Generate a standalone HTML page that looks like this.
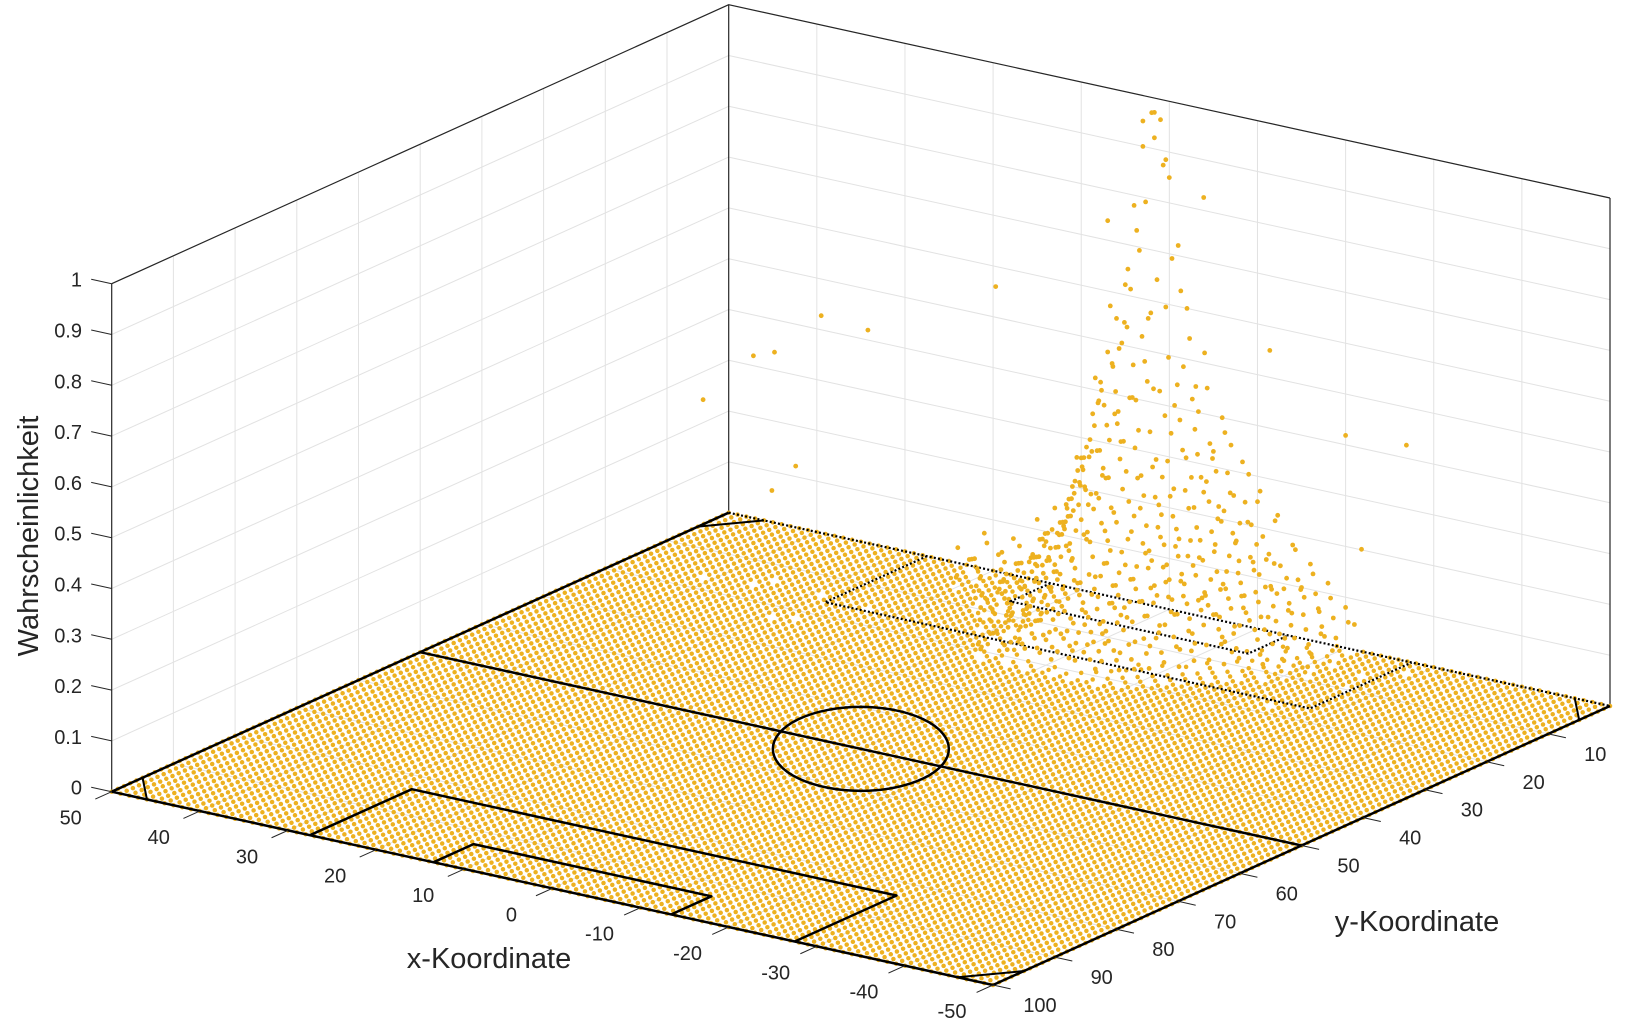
<!DOCTYPE html>
<html>
<head>
<meta charset="utf-8">
<style>
  html,body{margin:0;padding:0;background:#fff;}
  svg{display:block;}
  text{font-family:"Liberation Sans",Arial,sans-serif;fill:#262626;}
</style>
</head>
<body>
<svg id="chart" width="1630" height="1027" viewBox="0 0 1630 1027" xmlns="http://www.w3.org/2000/svg">
  <g id="walls"></g>
  <g id="floorGrid"></g>
  <g id="floorDots"></g>
  <g id="fieldLines"></g>
  <g id="liftDots"></g>
  <g id="axes"></g>
  <text x="0" y="0" font-size="29" text-anchor="middle" transform="translate(38,536) rotate(-90)">Wahrscheinlichkeit</text>
  <text x="489" y="968" font-size="29" text-anchor="middle">x-Koordinate</text>
  <text x="1417" y="931" font-size="29" text-anchor="middle">y-Koordinate</text>
</svg>
<script>
// ---- data ----
const xTicks = [50, 40, 30, 20, 10, 0, -10, -20, -30, -40, -50];
const yTicks = [10, 20, 30, 40, 50, 60, 70, 80, 90, 100];
const zTicks = [0, 0.1, 0.2, 0.3, 0.4, 0.5, 0.6, 0.7, 0.8, 0.9, 1];
const zTickLabels = ["0", "0.1", "0.2", "0.3", "0.4", "0.5", "0.6", "0.7", "0.8", "0.9", "1"];
const floorXs = Array.from({length: 101}, (_, i) => i - 50);
const floorYs = Array.from({length: 101}, (_, i) => i);
// lifted probabilities (percent), rows y = 0..22, columns x = -22..24
const liftX0 = -22;
const liftYs = [0,1,2,3,4,5,6,7,8,9,10,11,12,13,14,15,16,17,18,19,20,21,22];
const liftZ = [
 [0,5,8,0,12,6,15,10, 18,9,22,14,25,30,20,35, 40,33,52,45,60,72,85,96, 97,90,78,62,55,48,38,30, 26,20,0,15,8,12,0,6, 0,4,0,7,0,0,3],
 [0,6,0,10,4,14,9,18, 12,24,16,28,21,33,26,38, 30,46,41,55,64,70,88,93, 80,74,66,50,58,41,36,27, 22,17,11,0,9,5,0,8, 3,0,6,0,2,0,0],
 [0,0,7,3,11,0,13,8, 15,10,20,13,26,18,31,24, 36,29,44,50,42,61,66,58, 71,63,52,47,39,44,30,25, 19,14,0,10,6,0,4,0, 5,0,0,3,0,0,0],
 [0,4,0,9,0,12,7,0, 16,11,19,23,15,28,22,34, 27,39,33,47,52,45,60,55, 49,57,43,36,40,29,23,20, 15,0,12,7,0,5,0,3, 0,0,4,0,0,0,0],
 [0,0,5,0,8,3,0,11, 6,14,17,9,21,25,18,30, 35,24,41,38,29,46,51,43, 57,40,34,45,31,27,22,16, 0,13,8,0,6,0,2,0, 0,3,0,0,0,0,0],
 [3,0,0,6,0,9,4,13, 0,17,10,20,14,24,27,19, 31,36,28,42,33,48,38,44, 35,50,29,37,24,30,18,14, 11,0,9,5,0,4,0,0, 2,0,0,0,0,0,0],
 [0,0,4,0,7,0,10,5, 12,0,15,18,11,22,16,26, 29,21,34,25,39,30,45,36, 41,28,33,22,26,19,15,0, 12,8,0,6,0,3,0,0, 0,0,2,0,0,0,0],
 [0,3,0,0,5,8,0,11, 7,14,0,13,19,10,23,17, 20,28,24,33,27,36,31,40, 29,34,25,30,21,17,13,10, 0,9,5,0,4,0,0,2, 0,0,0,0,0,0,0],
 [0,0,0,4,0,6,9,0, 10,6,13,16,9,18,21,14, 25,19,28,22,31,26,34,24, 30,23,27,18,22,14,11,0, 8,0,6,3,0,0,2,0, 0,0,0,0,0,0,0],
 [2,0,0,0,5,0,7,10, 0,12,8,15,11,17,13,20, 16,23,18,26,21,29,24,20, 27,19,24,16,13,18,9,7, 0,6,0,4,0,2,0,0, 0,0,0,0,0,0,0],
 [0,0,3,0,0,6,0,8, 11,5,9,13,16,10,19,14, 22,17,20,25,15,23,19,27, 18,22,14,20,12,9,11,0, 6,0,4,0,0,2,0,0, 0,0,0,0,0,0,0],
 [0,0,0,0,4,0,0,7, 5,10,0,12,8,15,11,17, 13,19,16,21,14,18,23,16, 20,13,17,10,14,7,0,5, 0,4,0,3,0,0,0,0, 0,0,0,0,0,0,0],
 [0,0,0,3,0,0,5,0, 8,0,11,6,13,9,15,12, 17,10,14,19,12,16,13,20, 11,17,12,9,13,6,8,0, 4,0,0,2,0,0,0,0, 0,0,0,0,0,0,0],
 [0,0,0,0,0,4,0,6, 0,9,5,0,10,13,7,14, 11,15,9,13,17,10,14,12, 16,10,13,8,11,5,0,4, 0,3,0,0,0,0,0,0, 0,0,0,0,0,0,0],
 [0,0,0,0,0,0,3,0, 6,0,8,4,11,0,12,9, 14,8,12,10,15,11,9,13, 10,14,7,11,6,9,4,0, 3,0,0,0,0,0,0,0, 0,0,0,0,0,0,0],
 [0,0,0,0,0,0,0,4, 0,5,0,7,9,6,10,0, 12,9,11,7,13,8,12,10, 9,11,6,8,5,0,4,0, 0,2,0,0,0,0,0,0, 0,0,0,0,0,0,0],
 [0,0,0,0,0,0,0,0, 4,0,6,0,8,5,0,9, 7,11,6,10,8,12,7,9, 6,10,5,7,0,4,0,3, 0,0,0,0,0,0,0,0, 0,0,0,0,0,0,0],
 [0,0,0,0,0,0,0,0, 0,3,0,5,0,7,6,0, 9,5,8,6,10,7,9,5, 8,6,7,4,6,0,3,0, 0,0,0,0,0,0,0,0, 0,0,0,0,0,0,0],
 [0,0,0,0,0,0,0,0, 0,0,4,0,5,0,6,4, 0,7,5,8,4,6,9,5, 7,4,6,0,5,3,0,0, 0,0,0,0,0,0,0,0, 0,0,0,0,0,0,0],
 [0,0,0,0,0,0,0,0, 0,0,0,3,0,4,0,5, 6,0,5,7,4,6,3,5, 4,6,0,5,0,3,0,0, 0,0,0,0,0,0,0,0, 0,0,0,0,0,0,0],
 [0,0,0,0,0,0,0,0, 0,0,0,0,3,0,4,0, 5,3,0,4,6,0,5,3, 0,4,3,0,4,0,0,0, 0,0,0,0,0,0,0,0, 0,0,0,0,0,0,0],
 [0,0,0,0,0,0,0,0, 0,0,0,0,0,3,0,4, 0,5,3,0,4,0,3,0, 4,0,3,0,0,2,0,0, 0,0,0,0,0,0,0,0, 0,0,0,0,0,0,0],
 [0,0,0,0,0,0,0,0, 0,0,0,0,0,0,0,3, 0,0,4,0,3,0,0,4, 0,3,0,0,2,0,0,0, 0,0,0,0,0,0,0,0, 0,0,0,0,0,0,0]
];
// sparse outlying points
const outX = [41, 36, 35, 29, 23, 12, -29, -27, -26, -24, 27, 29, -6, 0, 1, -1, 3];
const outY = [17, 16, 14, 15, 16, 11, 3, 10, 6, 18, 22, 23, 3, 10, 1, 2, 0];
const outZ = [0.35, 0.45, 0.45, 0.55, 0.55, 0.65, 0.45, 0.5, 0.25, 0.7, 0.3, 0.25, 0.85, 0.82, 0.98, 0.9, 0.95];

// ---- projection ----
function P(x, y, z) {
  const u = (50 - x) / 100, v = (100 - y) / 100;
  return [111.7 + u * 881.3 + v * 617, 791.7 + u * 193.3 - v * 279 - (z || 0) * 508];
}
const NS = "http://www.w3.org/2000/svg";
function mk(tag, parent, attrs) {
  const e = document.createElementNS(NS, tag);
  for (const k in attrs) e.setAttribute(k, attrs[k]);
  parent.appendChild(e);
  return e;
}
function line(parent, a, b, stroke, w, name, dash) {
  const l = mk("line", parent, {x1: a[0], y1: a[1], x2: b[0], y2: b[1], stroke: stroke, "stroke-width": w});
  if (dash) l.setAttribute("stroke-dasharray", dash);
  
  
  return l;
}
function poly(parent, pts, stroke, w, name, dash) {
  const p = mk("polyline", parent, {points: pts.map(q => q[0].toFixed(1) + "," + q[1].toFixed(1)).join(" "), fill: "none", stroke: stroke, "stroke-width": w, "stroke-linejoin": "round"});
  if (dash) p.setAttribute("stroke-dasharray", dash);
  
  
  return p;
}

const walls = document.getElementById("walls");
const GRID = "#e2e2e2";
zTicks.forEach(z => {
  if (z === 0) return;
  poly(walls, [P(50, 100, z), P(50, 0, z), P(-50, 0, z)], GRID, 1, "z-gridline");
});
yTicks.forEach(y => { if (y < 100) line(walls, P(50, y, 0), P(50, y, 1), GRID, 1, "y-wall-gridline"); });
xTicks.forEach(x => { if (x > -50 && x < 50) line(walls, P(x, 0, 0), P(x, 0, 1), GRID, 1, "x-wall-gridline"); });
line(walls, P(50, 100, 0), P(50, 100, 1), "#262626", 1.2, "z-axis-line");
line(walls, P(50, 0, 0), P(50, 0, 1), "#262626", 1.2, "back-edge");
line(walls, P(-50, 0, 0), P(-50, 0, 1), "#262626", 1.2, "right-edge");
poly(walls, [P(50, 100, 1), P(50, 0, 1), P(-50, 0, 1)], "#262626", 1.2, "top-edge");

const fg = document.getElementById("floorGrid");
xTicks.forEach(x => line(fg, P(x, 0, 0), P(x, 100, 0), GRID, 1, "floor-gridline-x"));
yTicks.forEach(y => line(fg, P(50, y, 0), P(-50, y, 0), GRID, 1, "floor-gridline-y"));

const lifted = new Set();
liftZ.forEach((row, r) => row.forEach((v, c) => { if (v > 0) lifted.add((liftX0 + c) + "," + liftYs[r]); }));
outX.forEach((x, i) => lifted.add(x + "," + outY[i]));

const fd = document.getElementById("floorDots");
const DOT = "#EDB120";
floorYs.forEach(y => {
  floorXs.forEach(x => {
    if (lifted.has(x + "," + y)) return;
    const p = P(x, y, 0);
    const c = mk("circle", fd, {cx: p[0].toFixed(1), cy: p[1].toFixed(1), r: 2.25, fill: DOT});
    
    
  });
});

const fl = document.getElementById("fieldLines");
const K = "#000";
line(fl, P(50, 0, 0), P(50, 100, 0), K, 2.5, "touchline-left");
line(fl, P(50, 100, 0), P(-50, 100, 0), K, 2.5, "goal-line-front");
line(fl, P(-50, 100, 0), P(-50, 0, 0), K, 2.5, "touchline-right");
line(fl, P(50, 0, 0), P(-50, 0, 0), K, 2.2, "goal-line-back", "2 2.2");
line(fl, P(50, 50, 0), P(-50, 50, 0), K, 2.5, "halfway-line");
poly(fl, [P(27.5, 100, 0), P(27.5, 83.5, 0), P(-27.5, 83.5, 0), P(-27.5, 100, 0)], K, 2.5, "penalty-area-front");
poly(fl, [P(13.5, 100, 0), P(13.5, 93.5, 0), P(-13.5, 93.5, 0), P(-13.5, 100, 0)], K, 2.5, "goal-area-front");
poly(fl, [P(27.5, 0, 0), P(27.5, 16.5, 0), P(-27.5, 16.5, 0), P(-27.5, 0, 0)], K, 2.2, "penalty-area-back", "2 2.2");
poly(fl, [P(13.5, 0, 0), P(13.5, 6.5, 0), P(-13.5, 6.5, 0), P(-13.5, 0, 0)], K, 2.2, "goal-area-back", "2 2.2");
const cc = P(0, 50, 0);
const ell = mk("ellipse", fl, {cx: cc[0], cy: cc[1], rx: 88, ry: 42, fill: "none", stroke: K, "stroke-width": 2.5});


[[50, 100, -1, -1], [-50, 100, 1, -1], [50, 0, -1, 1], [-50, 0, 1, 1]].forEach(c => {
  line(fl, P(c[0] + c[2] * 4, c[1], 0), P(c[0], c[1] + c[3] * 5, 0), K, 2, "corner-arc");
});

const ld = document.getElementById("liftDots");
function liftDot(x, y, z) {
  const p = P(x, y, z);
  const c = mk("circle", ld, {cx: p[0].toFixed(1), cy: p[1].toFixed(1), r: 2.4, fill: DOT});
  
  
}
liftZ.forEach((row, r) => row.forEach((v, c) => { if (v > 0) liftDot(liftX0 + c, liftYs[r], v / 100); }));
outX.forEach((x, i) => liftDot(x, outY[i], outZ[i]));

const ax = document.getElementById("axes");
xTicks.forEach(x => {
  const p = P(x, 100, 0);
  line(ax, p, [p[0] - 16.4, p[1] + 7.4], "#262626", 1, "x-tick");
  const t = mk("text", ax, {x: (p[0] - 41).toFixed(1), y: (p[1] + 33).toFixed(1), "font-size": 20, "text-anchor": "middle"});
  t.textContent = String(x);
  
  
});
yTicks.forEach(y => {
  const p = P(-50, y, 0);
  line(ax, p, [p[0] + 17.6, p[1] + 3.9], "#262626", 1, "y-tick");
  const t = mk("text", ax, {x: (p[0] + 47).toFixed(1), y: (p[1] + 27).toFixed(1), "font-size": 20, "text-anchor": "middle"});
  t.textContent = String(y);
  
  
});
zTicks.forEach((z, i) => {
  const p = P(50, 100, z);
  line(ax, p, [p[0] - 20.5, p[1] - 4.5], "#262626", 1, "z-tick");
  const t = mk("text", ax, {x: 82, y: (p[1] + 3).toFixed(1), "font-size": 20, "text-anchor": "end"});
  t.textContent = zTickLabels[i];
  
  
});
</script>
</body>
</html>
